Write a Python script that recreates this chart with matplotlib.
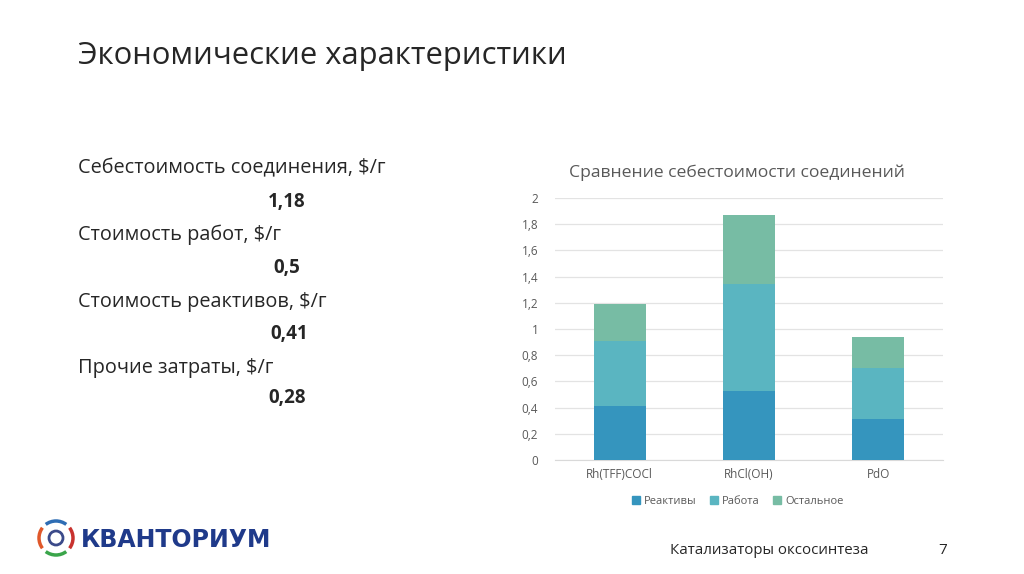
import matplotlib.pyplot as plt
import matplotlib.patches as mpatches
import numpy as np

plt.rcParams['font.family'] = ['Open Sans', 'DejaVu Sans']

# chart data
compounds = ['Rh(TFF)COCl', 'RhCl(OH)', 'PdO']
reagents = [0.41, 0.53, 0.31]
work = [0.50, 0.81, 0.39]
other = [0.28, 0.53, 0.24]
series_names = ['Реактивы', 'Работа', 'Остальное']
colors = ['#3595be', '#5ab5c1', '#77bca4']
yticks = [0, 0.2, 0.4, 0.6, 0.8, 1, 1.2, 1.4, 1.6, 1.8, 2]
ytick_labels = ['0', '0,2', '0,4', '0,6', '0,8', '1', '1,2', '1,4', '1,6', '1,8', '2']

# left text block
items = ['Себестоимость соединения, $/г', 'Стоимость работ, $/г',
         'Стоимость реактивов, $/г', 'Прочие затраты, $/г']
item_values = ['1,18', '0,5', '0,41', '0,28']

fig = plt.figure(figsize=(10.24, 5.74), dpi=100)
fig.patch.set_facecolor('white')

W, H = 1024.0, 574.0
def fx(px): return px / W
def fy(py): return 1 - py / H

fig.text(fx(78), fy(56), 'Экономические характеристики', fontsize=22.3,
         color='#262626', va='center', ha='left')

label_y = [168, 235, 302, 368]
value_y = [202, 268, 334, 398]
value_x = [287, 287, 289, 287]
for name, val, ly, vy, vx in zip(items, item_values, label_y, value_y, value_x):
    fig.text(fx(78), fy(ly), name, fontsize=14.3, color='#262626', va='center')
    fig.text(fx(vx), fy(vy), val, fontsize=13.5, color='#262626', va='center',
             ha='center', fontweight='bold')

# chart
ax = fig.add_axes([fx(555), fy(460), fx(943) - fx(555), fy(198) - fy(460)])
x = np.arange(len(compounds))
bottom = np.zeros(len(compounds))
for vals, col, nm in zip([reagents, work, other], colors, series_names):
    ax.bar(x, vals, width=0.4, bottom=bottom, color=col, label=nm, zorder=3)
    bottom += np.array(vals)

ax.set_xlim(-0.5, 2.5)
ax.set_ylim(0, 2)
ax.set_yticks(yticks)
ax.set_yticklabels(ytick_labels)
ax.set_xticks(x)
ax.set_xticklabels(compounds)
ax.tick_params(axis='both', length=0, colors='#595959', labelsize=8.5)
ax.tick_params(axis='y', pad=12)
ax.tick_params(axis='x', pad=6)
ax.grid(axis='y', color='#e3e3e3', linewidth=0.9, zorder=0)
for s in ['top', 'right', 'left']:
    ax.spines[s].set_visible(False)
ax.spines['bottom'].set_color('#d9d9d9')

fig.text(fx(737), fy(173), 'Сравнение себестоимости соединений', fontsize=12.6,
         color='#595959', ha='center', va='center')

handles = [mpatches.Patch(color=c) for c in colors]
fig.legend(handles, series_names, loc='center', bbox_to_anchor=(fx(738), fy(501)),
           ncol=3, frameon=False, fontsize=8, labelcolor='#595959',
           handlelength=0.7, handleheight=0.7, handletextpad=0.4, columnspacing=1.2)

# footer
fig.text(fx(670), fy(550), 'Катализаторы оксосинтеза', fontsize=10.8,
         color='#262626', va='center')
fig.text(fx(943), fy(550), '7', fontsize=11, color='#262626', va='center',
         ha='center')

# logo
lax = fig.add_axes([fx(36), fy(560), fx(40), fy(516) - fy(560)])
lax.set_xlim(-1, 1)
lax.set_ylim(-1, 1)
lax.set_aspect('equal')
lax.axis('off')
arcs = [(45, 135, '#2e6db4'), (135, 225, '#e0582a'), (225, 315, '#3aa54a'),
        (-45, 45, '#c8322e')]
for a1, a2, c in arcs:
    lax.add_patch(mpatches.Arc((0, 0), 1.7, 1.7, theta1=a1 + 8, theta2=a2 - 8,
                               color=c, linewidth=2.5))
lax.add_patch(mpatches.Circle((0, 0), 0.35, fill=False, color='#3b4a8a',
                              linewidth=2))
fig.text(fx(81), fy(540), 'КВАНТОРИУМ', fontsize=17, fontweight='bold',
         family='DejaVu Sans', color='#1f3a8a', va='center', ha='left')

fig.savefig('out.png', dpi=100, facecolor='white')
